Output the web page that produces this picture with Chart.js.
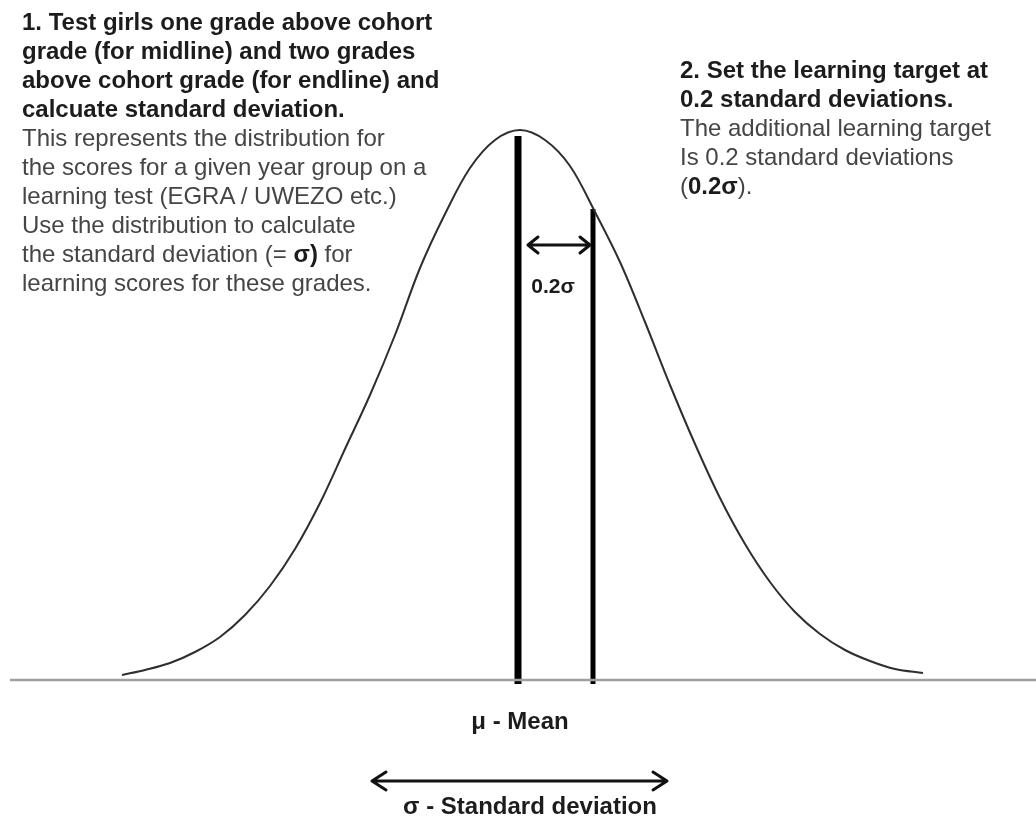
<!DOCTYPE html>
<html>
<head>
<meta charset="utf-8">
<script src="https://cdn.jsdelivr.net/npm/chart.js@4"></script>
<style>
  body { margin: 0; background: #fff; }
  #wrap { position: relative; width: 1036px; height: 816px; }
  .note { position: absolute; font-family: "Liberation Sans", Arial, sans-serif; font-size: 24px; line-height: 29px; color: #454545; }
  .note b { color: #1c1c1c; }
</style>
</head>
<body>
<div id="wrap">
  <canvas id="myChart"></canvas>
  <div class="note" style="left:22px; top:7px; width:470px;">
    <b>1. Test girls one grade above cohort<br>grade (for midline) and two grades<br>above cohort grade (for endline) and<br>calcuate standard deviation.</b><br>
    This represents the distribution for<br>the scores for a given year group on a<br>learning test (EGRA / UWEZO etc.)<br>Use the distribution to calculate<br>the standard deviation (= <b>σ)</b> for<br>learning scores for these grades.
  </div>
  <div class="note" style="left:680px; top:55px; width:356px;">
    <b>2. Set the learning target at<br>0.2 standard deviations.</b><br>
    The additional learning target<br>Is 0.2 standard deviations<br>(<b>0.2σ</b>).
  </div>
</div>
<script>
// score position relative to the mean, and the height of the distribution curve
const scores = [-3.98, -3.75, -3.5, -3.25, -3.0, -2.75, -2.5, -2.25, -2.0, -1.75, -1.5, -1.25, -1.0, -0.75, -0.5, -0.25,
  0, 0.25, 0.5, 0.75, 1.0, 1.25, 1.5, 1.75, 2.0, 2.25, 2.5, 2.75, 3.0, 3.25, 3.5, 3.75, 4.03];
const density = [0.05, 0.10, 0.17, 0.28, 0.43, 0.65, 0.94, 1.31, 1.77, 2.31, 2.85, 3.45, 4.12, 4.66, 5.12, 5.40,
  5.50, 5.40, 5.14, 4.68, 4.18, 3.58, 2.95, 2.36, 1.82, 1.36, 0.98, 0.68, 0.46, 0.30, 0.19, 0.11, 0.07];

const axisRange = [-5.1, 5.16];
const meanX = -0.02, meanTop = 5.44;
const targetX = 0.73, targetTop = 4.71;
const gapArrow = [0.08, 0.70], gapArrowY = 4.35;
const sdArrow = [-1.48, 1.47], sdArrowY = -1.01;

const curve = scores.map((s, i) => ({ x: s, y: density[i] }));

// arrows and labels, placed with the chart scales
const annotations = {
  id: 'annotations',
  afterDatasetsDraw(chart) {
    const { ctx, scales: { x, y } } = chart;
    ctx.save();
    ctx.strokeStyle = '#111';
    ctx.lineWidth = 3;
    ctx.lineCap = 'round';
    ctx.lineJoin = 'round';
    const arrow = (x0, x1, yv, head, half) => {
      const px0 = x.getPixelForValue(x0), px1 = x.getPixelForValue(x1), py = y.getPixelForValue(yv);
      ctx.beginPath();
      ctx.moveTo(px0, py); ctx.lineTo(px1, py);
      ctx.moveTo(px0 + head, py - half); ctx.lineTo(px0, py); ctx.lineTo(px0 + head, py + half);
      ctx.moveTo(px1 - head, py - half); ctx.lineTo(px1, py); ctx.lineTo(px1 - head, py + half);
      ctx.stroke();
    };
    arrow(gapArrow[0], gapArrow[1], gapArrowY, 10, 8);
    arrow(sdArrow[0], sdArrow[1], sdArrowY, 14, 9);

    ctx.fillStyle = '#1c1c1c';
    ctx.textAlign = 'center';
    ctx.textBaseline = 'middle';
    ctx.font = 'bold 21px "Liberation Sans", Arial, sans-serif';
    ctx.fillText('0.2σ', x.getPixelForValue(0.33), y.getPixelForValue(3.93));
    ctx.font = 'bold 24px "Liberation Sans", Arial, sans-serif';
    ctx.fillText('μ - Mean', x.getPixelForValue(0), y.getPixelForValue(-0.42));
    ctx.fillText('σ - Standard deviation', x.getPixelForValue(0.10), y.getPixelForValue(-1.27));
    ctx.restore();
  }
};

const data = {
  datasets: [
    {
      label: 'axis',
      data: axisRange.map(v => ({ x: v, y: 0 })),
      borderColor: '#a0a0a0',
      borderWidth: 2.5
    },
    {
      label: 'distribution',
      data: curve,
      borderColor: '#2e2e2e',
      borderWidth: 2,
      tension: 0.35
    },
    {
      label: 'mean',
      data: [{ x: meanX, y: -0.04 }, { x: meanX, y: meanTop }],
      borderColor: '#000',
      borderWidth: 7
    },
    {
      label: 'target',
      data: [{ x: targetX, y: -0.04 }, { x: targetX, y: targetTop }],
      borderColor: '#000',
      borderWidth: 5
    }
  ]
};

const config = {
  type: 'scatter',
  data,
  options: {
    responsive: true,
    maintainAspectRatio: false,
    animation: false,
    showLine: true,
    elements: { point: { radius: 0, hoverRadius: 0 } },
    layout: { padding: 0 },
    plugins: { legend: { display: false }, tooltip: { enabled: false } },
    scales: {
      x: { type: 'linear', min: -5.2, max: 5.16, display: false },
      y: { type: 'linear', min: -1.36, max: 6.8, display: false }
    }
  },
  plugins: [annotations]
};

document.getElementById('myChart').parentNode.style.height = '816px';
new Chart(document.getElementById('myChart'), config);
</script>
</body>
</html>
